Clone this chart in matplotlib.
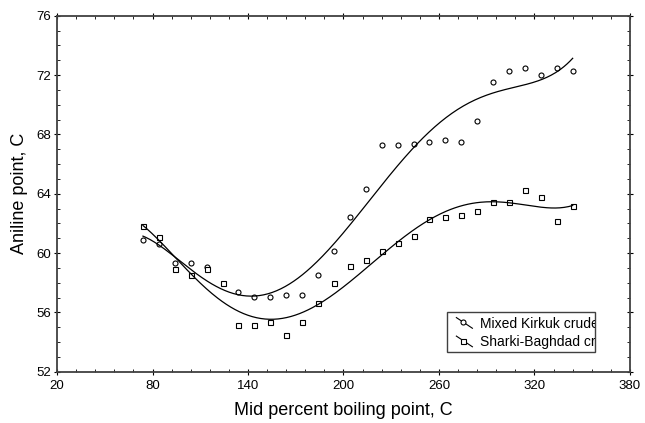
import numpy as np
import matplotlib
matplotlib.use("Agg")
from matplotlib import pyplot as plt
from matplotlib.lines import Line2D
from matplotlib.patches import Rectangle
from matplotlib.ticker import MultipleLocator

# mid percent boiling point (C) and aniline point (C)
kirkuk_bp = [74, 84, 94, 104, 114, 134, 144, 154, 164, 174, 184, 194, 204, 214,
             224, 234, 244, 254, 264, 274, 284, 294, 304, 314, 324, 334, 344]
kirkuk_ap = [60.9, 60.6, 59.35, 59.35, 59.05, 57.35, 57.05, 57.05, 57.2, 57.15,
             58.55, 60.15, 62.45, 64.3, 67.25, 67.25, 67.35, 67.5, 67.6, 67.5,
             68.9, 71.5, 72.3, 72.45, 72.0, 72.45, 72.3]

sharki_bp = [74, 84, 94, 104, 114, 124, 134, 144, 154, 164, 174, 184, 194, 204,
             214, 224, 234, 244, 254, 264, 274, 284, 294, 304, 314, 324, 334, 344]
sharki_ap = [61.8, 61.05, 58.9, 58.55, 58.9, 57.95, 55.15, 55.15, 55.35, 54.45,
             55.35, 56.65, 57.95, 59.15, 59.5, 60.15, 60.65, 61.15, 62.3, 62.45,
             62.55, 62.85, 63.45, 63.45, 64.25, 63.8, 62.15, 63.2]

legend_labels = ["Mixed Kirkuk crude", "Sharki-Baghdad crude"]
FIT_DEGREE = 5

plt.rcParams["font.family"] = ["Liberation Sans", "DejaVu Sans"]

fig = plt.figure(figsize=(6.45, 4.23), dpi=100)
ax = fig.add_axes([0.0884, 0.1213, 0.8883, 0.8416])


def fitted(x, y):
    coef = np.polyfit(x, y, FIT_DEGREE)
    xs = np.linspace(min(x), max(x), 300)
    return xs, np.polyval(coef, xs)


for bp, ap, marker in [(kirkuk_bp, kirkuk_ap, "o"), (sharki_bp, sharki_ap, "s")]:
    ax.plot(bp, ap, linestyle="none", marker=marker, markersize=3.6,
            markerfacecolor="white", markeredgecolor="black", markeredgewidth=0.8)
    xs, ys = fitted(bp, ap)
    ax.plot(xs, ys, color="black", linewidth=0.9)

ax.set_xlim(20, 380)
ax.set_ylim(52, 76)
ax.xaxis.set_major_locator(MultipleLocator(60, offset=20))
ax.xaxis.set_minor_locator(MultipleLocator(12, offset=8))
ax.yaxis.set_major_locator(MultipleLocator(4))
ax.yaxis.set_minor_locator(MultipleLocator(1))
ax.tick_params(which="major", direction="inout", length=4, width=0.8,
               top=True, right=True, labelsize=9.5, pad=2)
ax.tick_params(axis="x", which="major", pad=4)
ax.tick_params(which="minor", direction="in", length=2, width=0.6,
               top=True, right=True)
for sp in ax.spines.values():
    sp.set_color("#404040")
    sp.set_linewidth(1.3)

ax.set_xlabel("Mid percent boiling point, C", fontsize=13, labelpad=7)
ax.set_ylabel("Aniline point, C", fontsize=13, labelpad=6)

# legend box drawn by hand so the labels get clipped like in the original
box = Rectangle((0.681, 0.055), 0.258, 0.113, transform=ax.transAxes,
                facecolor="white", edgecolor="#404040", linewidth=1.0, zorder=5)
ax.add_patch(box)
rows_y = [0.134, 0.082]
for label, marker, yy in zip(legend_labels, ["o", "s"], rows_y):
    ax.add_line(Line2D([0.697, 0.725], [yy + 0.018, yy - 0.012], transform=ax.transAxes,
                       color="black", linewidth=0.8, zorder=6))
    ax.add_line(Line2D([0.709], [yy + 0.005], transform=ax.transAxes, marker=marker,
                       markersize=3.6, markerfacecolor="white", markeredgecolor="black",
                       markeredgewidth=0.8, zorder=7))
    t = ax.text(0.738, yy, label, transform=ax.transAxes, fontsize=10,
                va="center", ha="left", zorder=7)
    t.set_clip_on(True)
    t.set_clip_path(box)

fig.savefig("out.png", dpi=100)
